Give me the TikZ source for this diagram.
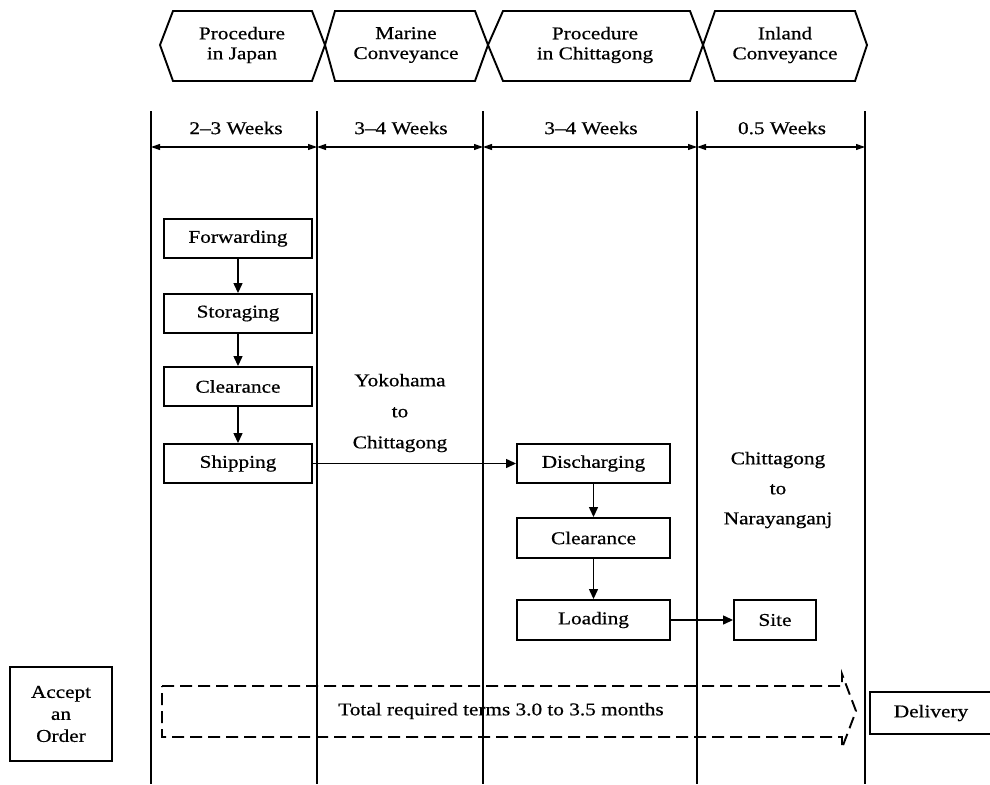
\documentclass[tikz,border=0pt]{standalone}
\usepackage{fontspec}
\setmainfont[FakeStretch=1.18,FakeBold=0.6]{Liberation Serif}
\usetikzlibrary{arrows.meta}
\newcommand\dfont{\fontsize{18}{20}\selectfont}
\tikzset{
  box/.style={draw, line width=1.9pt, inner sep=0pt, font=\dfont, anchor=center},
  colline/.style={line width=1.5pt},
  conn/.style={line width=1.3pt, -{Triangle[length=10pt,width=9pt]}},
  spanarrow/.style={line width=1.1pt, {Triangle[length=9pt,width=6pt]}-{Triangle[length=9pt,width=6pt]}},
  hexa/.style={line width=1.9pt, line join=miter},
  lbl/.style={font=\dfont, align=center, inner sep=0pt},
  dasharrow/.style={line width=1.9pt, dash pattern=on 12pt off 6pt, line join=miter},
}
\begin{document}
\begin{tikzpicture}[x=1pt,y=-1pt]
\useasboundingbox[fill=white] (0,0) rectangle (990,784);

% header hexagons
\draw[hexa] (160,45) -- (173,11) -- (312,11) -- (325,45) -- (312,81) -- (173,81) -- cycle;
\draw[hexa] (325,45) -- (335,11) -- (475,11) -- (488,45) -- (475,81) -- (335,81) -- cycle;
\draw[hexa] (488,45) -- (503,11) -- (690,11) -- (703,45) -- (690,81) -- (503,81) -- cycle;
\draw[hexa] (703,45) -- (715,11) -- (855,11) -- (867,45) -- (855,81) -- (715,81) -- cycle;
\node[lbl] (h1) at (242,45) {Procedure\\in Japan};
\node[lbl] (h2) at (406,45) {Marine\\Conveyance};
\node[lbl] (h3) at (595,45) {Procedure\\in Chittagong};
\node[lbl] (h4) at (785,45) {Inland\\Conveyance};

% column lines
\foreach \i/\x in {1/151,2/317,3/483,4/697,5/865}{
  \coordinate (t\i) at (\x,111);
  \coordinate (b\i) at (\x,784);
  \coordinate (w\i) at (\x,147);
  \draw[colline] (t\i) -- (b\i);
}
% week spans
\draw[spanarrow] (w1) -- (w2);
\draw[spanarrow] (w2) -- (w3);
\draw[spanarrow] (w3) -- (w4);
\draw[spanarrow] (w4) -- (w5);
\node[lbl] (k1) at (236,128) {2--3 Weeks};
\node[lbl] (k2) at (401,128) {3--4 Weeks};
\node[lbl] (k3) at (591,128) {3--4 Weeks};
\node[lbl] (k4) at (782,128) {0.5 Weeks};

% Japan procedure boxes
\node[box, minimum width=148pt, minimum height=39pt] (fwd) at (238,238.5) {Forwarding};
\node[box, minimum width=148pt, minimum height=39pt] (sto) at (238,313.5) {Storaging};
\node[box, minimum width=148pt, minimum height=39pt] (clr1) at (238,386.5) {Clearance};
\node[box, minimum width=148pt, minimum height=39pt] (shp) at (238,463.5) {Shipping};
\draw[conn] (fwd.south) -- (sto.north);
\draw[conn] (sto.south) -- (clr1.north);
\draw[conn] (clr1.south) -- (shp.north);

% marine text
\node[lbl, font=\fontsize{18}{31}\selectfont] (yok) at (400,413) {Yokohama\\to\\Chittagong};

% Chittagong boxes
\node[box, minimum width=153pt, minimum height=39pt] (dis) at (593.5,463.5) {Discharging};
\node[box, minimum width=153pt, minimum height=40pt] (clr2) at (593.5,538) {Clearance};
\node[box, minimum width=153pt, minimum height=40pt] (lod) at (593.5,620) {Loading};
\draw[conn] (shp.east) -- (dis.west);
\draw[conn] (dis.south) -- (clr2.north);
\draw[conn] (clr2.south) -- (lod.north);

% inland
\node[lbl, font=\fontsize{18}{30}\selectfont] (ctn) at (778,490) {Chittagong\\to\\Narayanganj};
\node[box, minimum width=82pt, minimum height=40pt] (site) at (775,620) {Site};
\draw[conn] (lod.east) -- (site.west);

% bottom
\node[box, minimum width=102pt, minimum height=94pt, align=center, font=\fontsize{18}{22}\selectfont] (acc) at (61,714) {Accept\\an\\Order};
\draw[dasharrow] (162,686) -- (842,686) -- (842,674) -- (856,711) -- (842,748) -- (842,737) -- (162,737) -- cycle;
\node[lbl] (tot) at (501,711) {Total required terms 3.0 to 3.5 months};
\node[box, minimum width=122pt, minimum height=42pt] (dlv) at (931,713) {Delivery};
\end{tikzpicture}
\end{document}
